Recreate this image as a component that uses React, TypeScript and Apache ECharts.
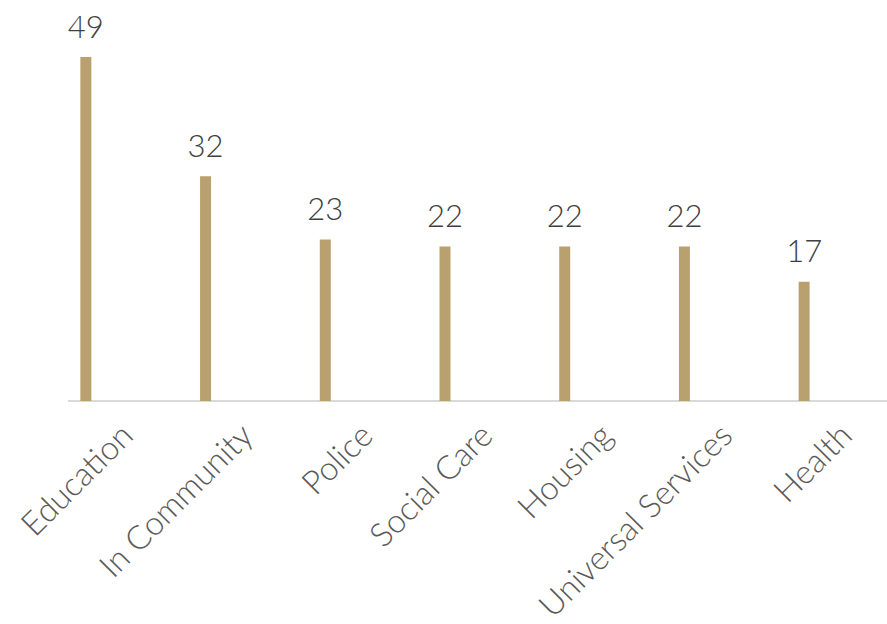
import React, { useEffect, useRef } from "react";
import * as echarts from "echarts";

const categories = ["Education", "In Community", "Police", "Social Care", "Housing", "Universal Services", "Health"];
const values = [49, 32, 23, 22, 22, 22, 17];

const BAR_COLOR = "#B9A16F";
const VALUE_COLOR = "#404040";
const LABEL_COLOR = "#595959";
const FONT = "Lato, 'Open Sans', sans-serif";

export default function App() {
  const ref = useRef<HTMLDivElement>(null);
  useEffect(() => {
    if (!ref.current) return;
    const chart = echarts.init(ref.current, undefined, { renderer: "svg" });
    chart.setOption({
      animation: false,
      backgroundColor: "#ffffff",
      grid: [
        { left: 26, right: 23, top: 50, bottom: 223 },
        { left: 126, right: 42, top: 50, bottom: 223 },
      ],
      xAxis: [
        {
          type: "category",
          gridIndex: 0,
          data: categories,
          axisLine: { show: false },
          axisTick: { show: false },
          axisLabel: { show: false },
        },
        {
          type: "category",
          gridIndex: 1,
          data: categories,
          boundaryGap: false,
          axisLine: { show: false },
          axisTick: { show: false },
          axisLabel: {
            rotate: 45,
            margin: 44,
            color: LABEL_COLOR,
            fontFamily: FONT,
            fontWeight: 300,
            fontSize: 33,
            interval: 0,
          },
        },
      ],
      yAxis: [
        { type: "value", gridIndex: 0, min: 0, max: 50, show: false, splitLine: { show: false } },
        { type: "value", gridIndex: 1, min: 0, max: 50, show: false, splitLine: { show: false } },
      ],
      graphic: [
        {
          type: "line",
          shape: { x1: 68, y1: 401, x2: 887, y2: 401 },
          style: { stroke: "#D9D9D9", lineWidth: 2 },
          z: 1,
        },
      ],
      series: [
        {
          type: "bar",
          xAxisIndex: 0,
          yAxisIndex: 0,
          data: values,
          barWidth: 11,
          itemStyle: { color: BAR_COLOR },
          z: 3,
          label: {
            show: true,
            position: "top",
            distance: 16,
            color: VALUE_COLOR,
            fontFamily: FONT,
            fontWeight: 300,
            fontSize: 31,
            lineHeight: 31,
          },
        },
      ],
    });
    return () => chart.dispose();
  }, []);
  return <div ref={ref} style={{ width: 887, height: 624, position: "absolute", left: 0, top: 0 }} />;
}
